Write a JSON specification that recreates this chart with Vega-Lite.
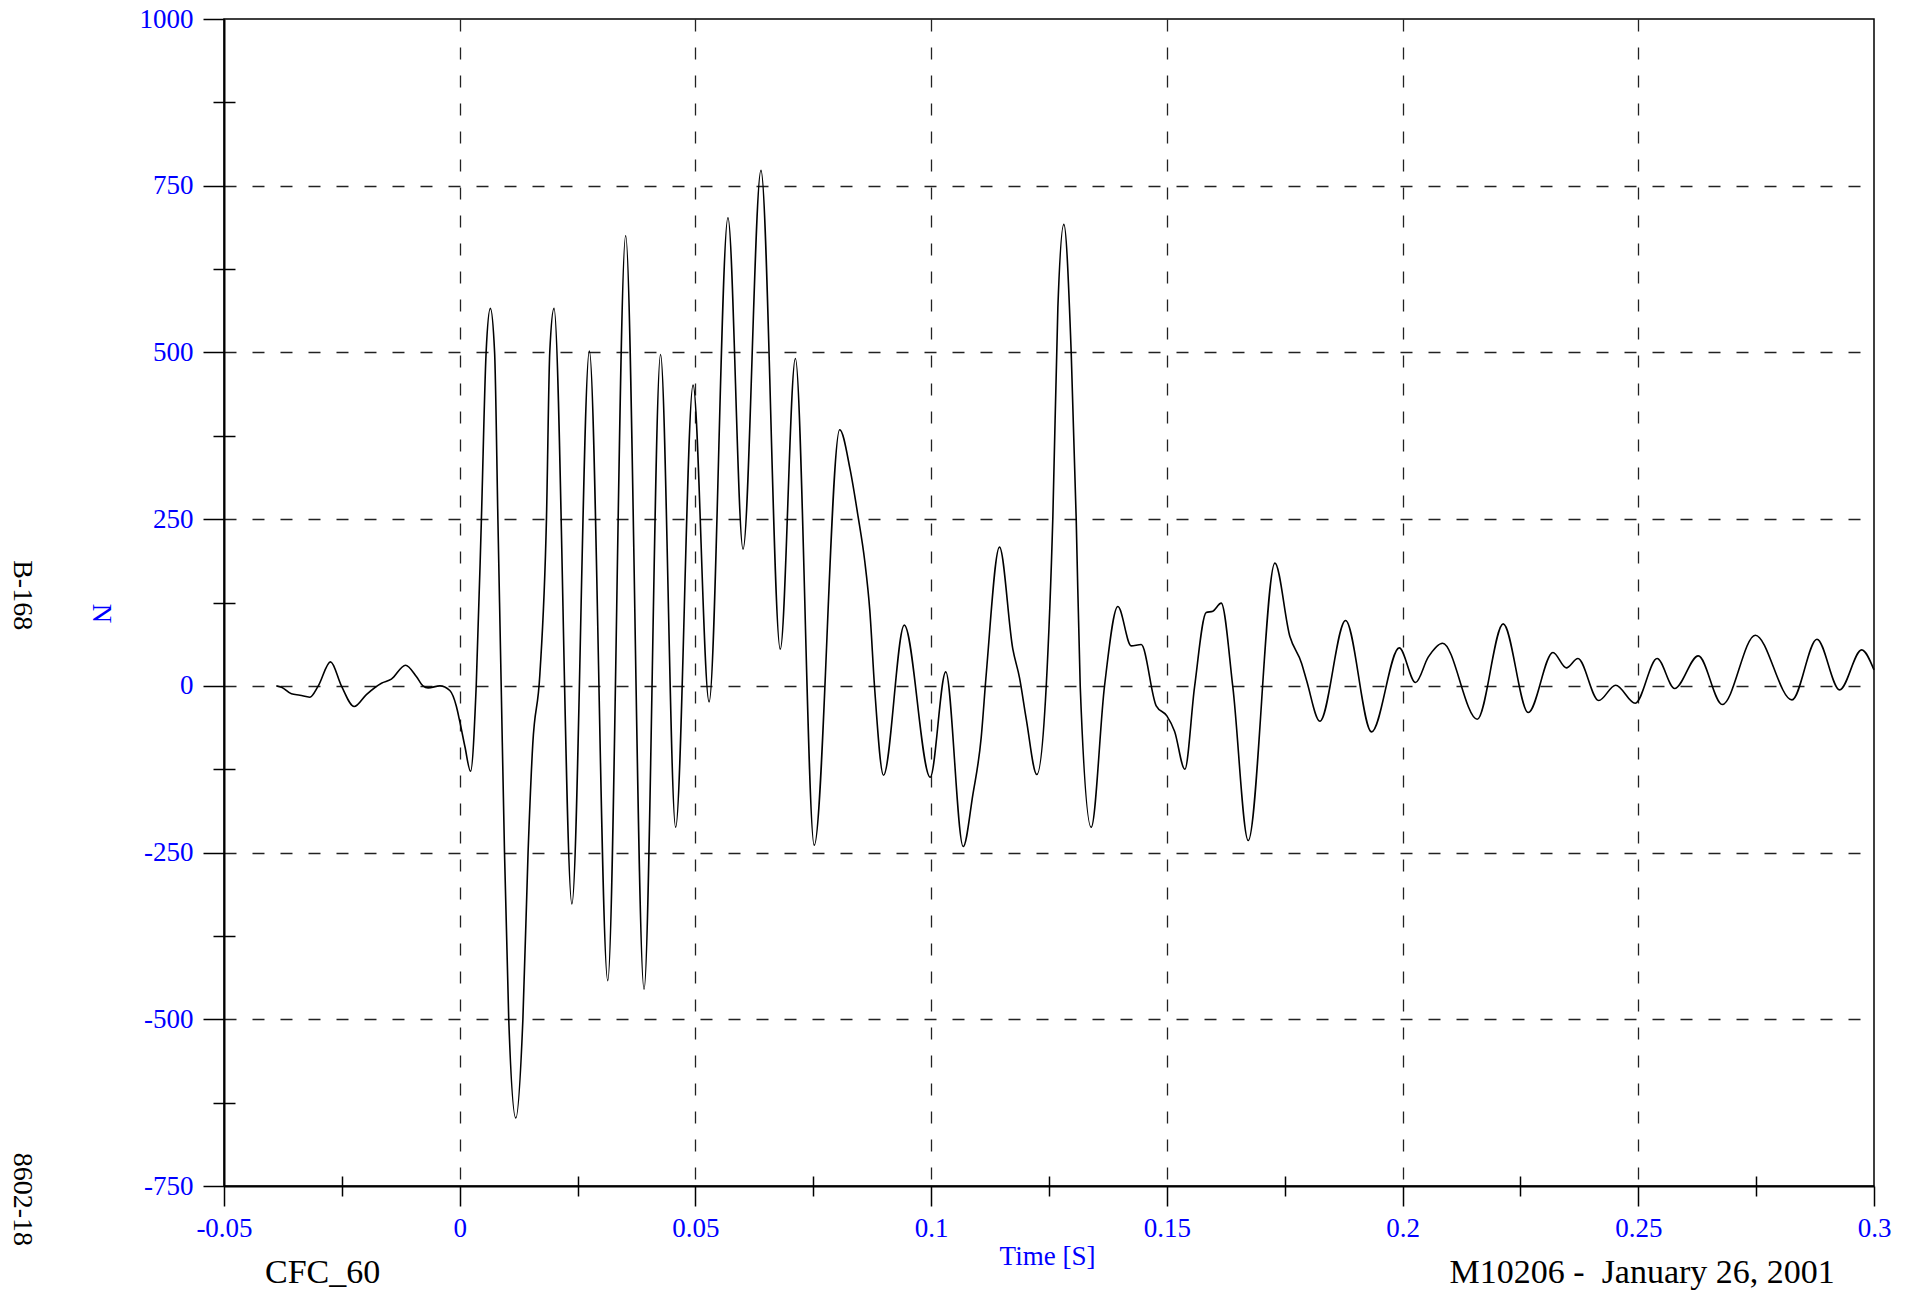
{
  "$schema": "https://vega.github.io/schema/vega-lite/v6.json",
  "width": 1650,
  "height": 1167,
  "autosize": {"type": "none"},
  "padding": {"left": 224, "top": 19, "right": 42, "bottom": 108},
  "background": "white",
  "config": {
    "view": {"stroke": "black", "strokeWidth": 1.5},
    "axis": {
      "labelFont": "Liberation Serif",
      "titleFont": "Liberation Serif",
      "labelFontSize": 27,
      "titleFontSize": 27,
      "labelColor": "#0000FF",
      "titleColor": "#0000FF",
      "titleFontWeight": "normal",
      "tickColor": "black",
      "tickWidth": 1.5,
      "domainColor": "black",
      "domainWidth": 2,
      "labelOverlap": false,
      "labelFlush": false
    }
  },
  "datasets": {
    "curve": [
      {"t": -0.0389, "v": 0},
      {"t": -0.0378, "v": -2},
      {"t": -0.0357, "v": -12},
      {"t": -0.0339, "v": -14},
      {"t": -0.0318, "v": -17},
      {"t": -0.0300, "v": 0},
      {"t": -0.0274, "v": 36},
      {"t": -0.0251, "v": 0},
      {"t": -0.0224, "v": -31},
      {"t": -0.0198, "v": -13},
      {"t": -0.0166, "v": 4},
      {"t": -0.0145, "v": 10},
      {"t": -0.0115, "v": 31},
      {"t": -0.0092, "v": 14},
      {"t": -0.0078, "v": 0},
      {"t": -0.0067, "v": -3},
      {"t": -0.0042, "v": 0},
      {"t": -0.0021, "v": -7},
      {"t": -0.0007, "v": -31},
      {"t": 0.0000, "v": -53},
      {"t": 0.0011, "v": -91},
      {"t": 0.0023, "v": -128},
      {"t": 0.0035, "v": 0},
      {"t": 0.0046, "v": 250},
      {"t": 0.0056, "v": 500},
      {"t": 0.0065, "v": 566},
      {"t": 0.0074, "v": 500},
      {"t": 0.0081, "v": 250},
      {"t": 0.0088, "v": 0},
      {"t": 0.0095, "v": -250},
      {"t": 0.0104, "v": -500},
      {"t": 0.0119, "v": -648},
      {"t": 0.0134, "v": -500},
      {"t": 0.0145, "v": -250},
      {"t": 0.0155, "v": -87},
      {"t": 0.0170, "v": 17},
      {"t": 0.0184, "v": 250},
      {"t": 0.0191, "v": 500},
      {"t": 0.0200, "v": 566},
      {"t": 0.0238, "v": -327},
      {"t": 0.0275, "v": 502},
      {"t": 0.0314, "v": -442},
      {"t": 0.0352, "v": 675},
      {"t": 0.0391, "v": -455},
      {"t": 0.0426, "v": 497},
      {"t": 0.0458, "v": -212},
      {"t": 0.0495, "v": 451},
      {"t": 0.0529, "v": -24},
      {"t": 0.0569, "v": 702},
      {"t": 0.0601, "v": 205},
      {"t": 0.0639, "v": 773},
      {"t": 0.0680, "v": 55},
      {"t": 0.0712, "v": 491},
      {"t": 0.0752, "v": -239},
      {"t": 0.0806, "v": 384},
      {"t": 0.0828, "v": 325},
      {"t": 0.0845, "v": 254},
      {"t": 0.0859, "v": 188},
      {"t": 0.0870, "v": 112},
      {"t": 0.0880, "v": -2},
      {"t": 0.0899, "v": -134},
      {"t": 0.0943, "v": 91},
      {"t": 0.0998, "v": -137},
      {"t": 0.1031, "v": 21},
      {"t": 0.1068, "v": -241},
      {"t": 0.10885, "v": -163},
      {"t": 0.11061, "v": -78},
      {"t": 0.11168, "v": 17},
      {"t": 0.1145, "v": 208},
      {"t": 0.11733, "v": 55},
      {"t": 0.11875, "v": 12},
      {"t": 0.12016, "v": -49},
      {"t": 0.12242, "v": -133},
      {"t": 0.1244, "v": -2},
      {"t": 0.12582, "v": 254},
      {"t": 0.12688, "v": 567},
      {"t": 0.12815, "v": 692},
      {"t": 0.12971, "v": 500},
      {"t": 0.13077, "v": 250},
      {"t": 0.13162, "v": 0},
      {"t": 0.13395, "v": -212},
      {"t": 0.13678, "v": 0},
      {"t": 0.13961, "v": 119},
      {"t": 0.14243, "v": 60},
      {"t": 0.14456, "v": 62},
      {"t": 0.14774, "v": -30},
      {"t": 0.15, "v": -45},
      {"t": 0.15163, "v": -68},
      {"t": 0.15382, "v": -125},
      {"t": 0.15587, "v": -2},
      {"t": 0.15834, "v": 110},
      {"t": 0.15976, "v": 112},
      {"t": 0.16153, "v": 124},
      {"t": 0.164, "v": -2},
      {"t": 0.16726, "v": -232},
      {"t": 0.17292, "v": 184},
      {"t": 0.1761, "v": 74},
      {"t": 0.17857, "v": 34},
      {"t": 0.17964, "v": 8},
      {"t": 0.18246, "v": -53},
      {"t": 0.18791, "v": 98},
      {"t": 0.19342, "v": -69},
      {"t": 0.19929, "v": 57},
      {"t": 0.20276, "v": 5},
      {"t": 0.20544, "v": 43},
      {"t": 0.20849, "v": 64},
      {"t": 0.21584, "v": -50},
      {"t": 0.22135, "v": 93},
      {"t": 0.22666, "v": -40},
      {"t": 0.2319, "v": 50},
      {"t": 0.23473, "v": 27},
      {"t": 0.2372, "v": 41},
      {"t": 0.24159, "v": -22},
      {"t": 0.2452, "v": 1},
      {"t": 0.24936, "v": -26},
      {"t": 0.254, "v": 41},
      {"t": 0.25771, "v": -4},
      {"t": 0.26273, "v": 45},
      {"t": 0.26782, "v": -28},
      {"t": 0.27482, "v": 76},
      {"t": 0.2826, "v": -21},
      {"t": 0.2879, "v": 70},
      {"t": 0.29271, "v": -6},
      {"t": 0.29738, "v": 54},
      {"t": 0.3, "v": 24}
    ]
  },
  "resolve": {"axis": {"x": "independent", "y": "independent"}},
  "layer": [
    {
      "data": {"name": "curve"},
      "mark": {"type": "point", "opacity": 0},
      "encoding": {
        "x": {"field": "t", "type": "quantitative", "scale": {"domain": [-0.05, 0.3], "nice": false, "zero": false},
          "axis": {"orient": "bottom", "values": [0, 0.05, 0.1, 0.15, 0.2, 0.25], "grid": true, "gridColor": "#222", "gridWidth": 1.3, "gridDash": [12, 16], "ticks": false, "labels": false, "domain": false, "title": null}},
        "y": {"field": "v", "type": "quantitative", "scale": {"domain": [-750, 1000], "nice": false, "zero": false},
          "axis": {"orient": "left", "values": [-500, -250, 0, 250, 500, 750], "grid": true, "gridColor": "#222", "gridWidth": 1.3, "gridDash": [12, 16], "ticks": false, "labels": false, "domain": false, "title": null}}
      }
    },
    {
      "data": {"name": "curve"},
      "mark": {"type": "point", "opacity": 0},
      "encoding": {
        "x": {"field": "t", "type": "quantitative", "scale": {"domain": [-0.05, 0.3], "nice": false, "zero": false},
          "axis": {"orient": "bottom", "values": [-0.025, 0.025, 0.075, 0.125, 0.175, 0.225, 0.275], "grid": false, "tickSize": 10, "labels": false, "domain": false, "title": null}},
        "y": {"field": "v", "type": "quantitative", "scale": {"domain": [-750, 1000], "nice": false, "zero": false},
          "axis": {"orient": "left", "values": [-625, -375, -125, 125, 375, 625, 875], "grid": false, "tickSize": 11, "labels": false, "domain": false, "title": null}}
      }
    },
    {
      "data": {"name": "curve"},
      "mark": {"type": "point", "opacity": 0},
      "encoding": {
        "x": {"field": "t", "type": "quantitative", "scale": {"domain": [-0.05, 0.3], "nice": false, "zero": false},
          "axis": {"orient": "bottom", "values": [-0.025, 0.025, 0.075, 0.125, 0.175, 0.225, 0.275], "grid": false, "tickSize": -10, "labels": false, "domain": false, "title": null}},
        "y": {"field": "v", "type": "quantitative", "scale": {"domain": [-750, 1000], "nice": false, "zero": false},
          "axis": {"orient": "left", "values": [-625, -375, -125, 125, 375, 625, 875], "grid": false, "tickSize": -11, "labels": false, "domain": false, "title": null}}
      }
    },
    {
      "data": {"name": "curve"},
      "mark": {"type": "line", "color": "black", "strokeWidth": 1.6, "interpolate": "monotone"},
      "encoding": {
        "x": {"field": "t", "type": "quantitative", "scale": {"domain": [-0.05, 0.3], "nice": false, "zero": false},
          "axis": {"orient": "bottom", "values": [-0.05, 0, 0.05, 0.1, 0.15, 0.2, 0.25, 0.3], "labelExpr": "toString(datum.value)", "grid": false, "tickSize": 20, "labelPadding": 9, "title": "Time [S]", "titleX": 823, "titleY": 78, "titleBaseline": "alphabetic", "titleAlign": "center"}},
        "y": {"field": "v", "type": "quantitative", "scale": {"domain": [-750, 1000], "nice": false, "zero": false},
          "axis": {"orient": "left", "values": [-750, -500, -250, 0, 250, 500, 750, 1000], "labelExpr": "toString(datum.value)", "grid": false, "tickSize": 21, "labelPadding": 10, "title": "N", "titleAngle": 90, "titleX": -124, "titleY": 594, "titleAlign": "center", "titleBaseline": "middle"}}
      }
    },
    {
      "data": {"values": [{}]},
      "mark": {"type": "text", "text": "CFC_60", "font": "Liberation Serif", "fontSize": 34, "color": "black", "align": "left", "baseline": "alphabetic"},
      "encoding": {
        "x": {"datum": -0.0413, "type": "quantitative", "scale": {"domain": [-0.05, 0.3], "nice": false, "zero": false}, "axis": null},
        "y": {"datum": -895, "type": "quantitative", "scale": {"domain": [-750, 1000], "nice": false, "zero": false}, "axis": null}
      }
    },
    {
      "data": {"values": [{}]},
      "mark": {"type": "text", "text": "M10206 -\u00a0 January 26, 2001", "font": "Liberation Serif", "fontSize": 34, "color": "black", "align": "right", "baseline": "alphabetic"},
      "encoding": {
        "x": {"datum": 0.2917, "type": "quantitative", "scale": {"domain": [-0.05, 0.3], "nice": false, "zero": false}, "axis": null},
        "y": {"datum": -895, "type": "quantitative", "scale": {"domain": [-750, 1000], "nice": false, "zero": false}, "axis": null}
      }
    },
    {
      "data": {"values": [{}]},
      "mark": {"type": "text", "text": "B-168", "font": "Liberation Serif", "fontSize": 28, "color": "black", "align": "center", "baseline": "middle", "angle": 90},
      "encoding": {
        "x": {"datum": -0.0928, "type": "quantitative", "scale": {"domain": [-0.05, 0.3], "nice": false, "zero": false}, "axis": null},
        "y": {"datum": 136, "type": "quantitative", "scale": {"domain": [-750, 1000], "nice": false, "zero": false}, "axis": null}
      }
    },
    {
      "data": {"values": [{}]},
      "mark": {"type": "text", "text": "8602-18", "font": "Liberation Serif", "fontSize": 28, "color": "black", "align": "center", "baseline": "middle", "angle": 90},
      "encoding": {
        "x": {"datum": -0.0928, "type": "quantitative", "scale": {"domain": [-0.05, 0.3], "nice": false, "zero": false}, "axis": null},
        "y": {"datum": -770, "type": "quantitative", "scale": {"domain": [-750, 1000], "nice": false, "zero": false}, "axis": null}
      }
    }
  ]
}
